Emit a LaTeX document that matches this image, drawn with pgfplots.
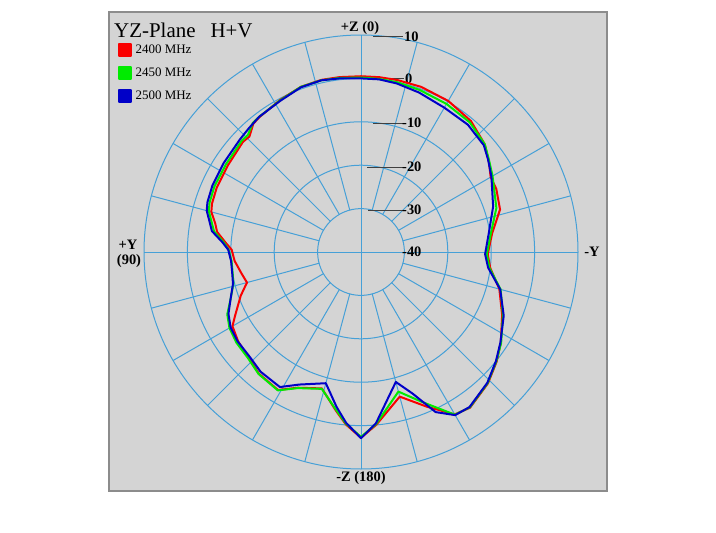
\documentclass[border=0pt]{standalone}
\usepackage{pgfplots}
\pgfplotsset{compat=1.18}
\usepgfplotslibrary{polar}
\usepackage{pgfplotstable}
\usepackage{fontspec}
\setmainfont{Liberation Serif}

\definecolor{panel}{RGB}{212,212,212}
\definecolor{gridc}{RGB}{70,160,215}
\definecolor{cRed}{RGB}{250,0,0}
\definecolor{cGreen}{RGB}{0,235,0}
\definecolor{cBlue}{RGB}{0,0,200}

% angle: 0 = +Z (top), 90 = +Y (left); gain in dB
\pgfplotstableread{
a db
0 0.5
7 0.6
13 0.7
20 0.5
28 -0.3
37 -1.1
40 -1.4
44 -3.0
47 -2.8
57 -3.4
66 -3.6
72 -3.9
75 -4.3
79 -5.8
82 -6.5
86 -8.7
89 -10.2
94 -10.8
100 -12.0
105 -12.8
110 -10.5
117 -7.4
120 -5.8
126 -5.0
133 -4.5
140 -3.4
149 -2.9
155 -5.5
164 -7.3
171 -3.0
175 -0.1
180 2.8
185 0.0
195 -5.5
203 -1.3
210 3.2
215 3.8
224 2.1
231 0.2
237 -1.6
246 -4.4
255 -7.0
263 -10.0
269 -10.8
278 -9.5
287 -6.5
295 -5.6
300 -5.5
305 -4.0
311 -2.2
320 -0.6
330 0.2
340 0.5
348 0.5
354 0.5
360 0.5
}\redtab

\pgfplotstableread{
a db
0 0.2
7 0.4
13 0.6
20 0.5
28 -0.4
37 -1.0
40 -1.2
44 -2.5
47 -2.4
57 -2.9
66 -3.0
72 -3.3
75 -3.7
79 -5.0
82 -5.8
86 -8.3
89 -9.5
94 -10.1
100 -10.0
104 -9.7
110 -8.0
115 -6.0
120 -5.0
126 -4.5
133 -4.3
140 -3.3
149 -2.8
155 -5.4
164 -7.2
171 -3.2
175 -0.3
180 2.6
185 -0.2
195 -6.7
202 -2.8
210 3.3
215 3.7
224 2.0
231 0.1
237 -1.5
246 -4.2
255 -6.7
263 -10.2
269 -11.0
278 -9.8
288 -7.2
300 -5.0
306 -3.6
311 -2.2
320 -1.0
330 -0.6
340 -0.3
348 0.0
354 0.1
360 0.2
}\greentab

\pgfplotstableread{
a db
0 0.0
7 0.3
13 0.6
20 0.4
28 -0.5
37 -1.0
42 -1.5
47 -1.9
57 -2.3
66 -2.5
72 -2.8
75 -3.2
79 -4.5
82 -5.3
86 -8.0
89 -9.4
94 -10.0
100 -9.9
104 -9.6
110 -8.0
115 -6.3
120 -5.3
126 -4.9
133 -4.8
140 -4.0
149 -3.7
155 -6.3
165 -8.7
171 -3.9
175 -0.5
180 2.9
185 -0.4
195 -9.0
200 -5.3
205 0.7
210 3.4
215 3.6
224 1.9
231 0.0
237 -1.7
246 -4.0
255 -6.8
263 -10.5
269 -11.4
278 -10.3
289 -7.8
300 -5.3
306 -3.8
311 -2.5
320 -1.7
330 -1.6
340 -0.9
348 -0.3
354 0.0
360 0.0
}\bluetab

\begin{document}
\begin{tikzpicture}[lbl/.style={font=\bfseries\fontsize{14.5}{16}\selectfont, inner sep=0pt}]
\fill[white] (0,0) rectangle (716bp,-533bp);
\fill[panel] (109bp,-12bp) rectangle (607bp,-491bp);
\draw[black!45, line width=1.5bp] (109bp,-12bp) rectangle (607bp,-491bp);

% polar grid
\begin{scope}[shift={(361bp,-252bp)}, gridc, line width=1bp]
  \foreach \r in {43.4,86.8,130.2,173.6,217}
    \draw (0,0) circle[radius=\r bp];
  \foreach \a in {0,15,...,345}
    \draw (\a:43.4bp) -- (\a:217bp);
  \draw (-217bp,0) -- (217bp,0);
  \draw (0,-217bp) -- (0,217bp);
\end{scope}

% ring labels
\begin{scope}[black!75, line width=1bp]
  \draw (373bp,-36bp) -- (403bp,-36bp);
  \draw (390bp,-78bp) -- (404bp,-78bp);
  \draw (373bp,-123bp) -- (404bp,-123bp);
  \draw (367bp,-167bp) -- (404bp,-167bp);
  \draw (368bp,-210bp) -- (404bp,-210bp);
\end{scope}
\node[lbl, anchor=west] at (404bp,-37bp) {10};
\node[lbl, anchor=west] at (405bp,-79bp) {0};
\node[lbl, anchor=west] at (402bp,-123bp) {-10};
\node[lbl, anchor=west] at (402bp,-167bp) {-20};
\node[lbl, anchor=west] at (402bp,-210bp) {-30};
\node[lbl, anchor=west] at (402bp,-252bp) {-40};

\begin{polaraxis}[
  at={(361bp,-252bp)}, anchor=center,
  scale only axis, width=434bp, height=434bp,
  xmin=0, xmax=360, ymin=0, ymax=50,
  hide axis,
  clip=false,
  legend cell align=left,
  legend style={at={(axis description cs:-0.06,0.983)}, anchor=north west,
    draw=none, fill=none, inner sep=0pt, row sep=9bp, column sep=2bp,
    font=\fontsize{13}{14}\selectfont,
    nodes={inner sep=1.5bp}},
  legend image code/.code={\fill[#1] (0bp,-6bp) rectangle (12bp,6bp);},
]
\addplot[cRed, line width=2bp, line join=round] table[x expr=\thisrow{a}+90, y expr=\thisrow{db}+40]{\redtab};
\addlegendentry{2400 MHz}
\addplot[cGreen, line width=2bp, line join=round] table[x expr=\thisrow{a}+90, y expr=\thisrow{db}+40]{\greentab};
\addlegendentry{2450 MHz}
\addplot[cBlue, line width=2bp, line join=round] table[x expr=\thisrow{a}+90, y expr=\thisrow{db}+40]{\bluetab};
\addlegendentry{2500 MHz}
\end{polaraxis}

% titles and direction labels
\node[anchor=base west, inner sep=0pt, font=\fontsize{21}{24}\selectfont] at (114bp,-37bp) {YZ-Plane\hspace{15bp}H+V};
\node[lbl] at (360bp,-28bp) {+Z (0)};
\node[lbl, anchor=base] at (128bp,-249bp) {+Y};
\node[lbl, anchor=base] at (129bp,-264bp) {(90)};
\node[lbl] at (592bp,-252bp) {-Y};
\node[lbl] at (361bp,-478bp) {-Z (180)};
\end{tikzpicture}
\end{document}
